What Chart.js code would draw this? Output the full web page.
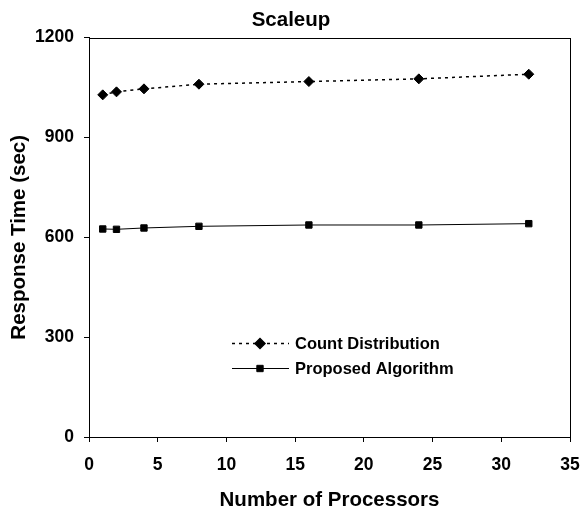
<!DOCTYPE html>
<html>
<head>
<meta charset="utf-8">
<script src="https://cdn.jsdelivr.net/npm/chart.js@4/dist/chart.umd.min.js"></script>
<style>
  html, body { margin: 0; padding: 0; background: #fff; }
  #wrap { width: 582px; height: 514px; }
</style>
</head>
<body>
<div id="wrap"><canvas id="chart-scaleup"></canvas></div>
<script>
/* Scaleup data */
var processors = [1, 2, 4, 8, 16, 24, 32];
var countDistribution = [1028, 1037, 1046, 1060, 1068, 1076, 1090];
var proposedAlgorithm = [625, 624, 628, 633, 637, 637, 641];
var seriesNames = ['Count Distribution', 'Proposed Algorithm'];

var FONT = "'Liberation Sans', Arial, sans-serif";

function toPoints(xs, ys) {
    return xs.map(function (x, i) { return { x: x, y: ys[i] }; });
}

/* box around the plot area */
var frame = {
    id: 'frame',
    afterDraw: function (chart) {
        var a = chart.chartArea, c = chart.ctx;
        c.save();
        c.strokeStyle = '#000';
        c.lineWidth = 1;
        c.strokeRect(Math.round(a.left) + 0.5, Math.round(a.top) + 0.5,
            Math.round(a.right - a.left), Math.round(a.bottom - a.top));
        c.restore();
    }
};

/* legend drawn inside the plot area */
var innerLegend = {
    id: 'innerLegend',
    afterDraw: function (chart) {
        var c = chart.ctx;
        var rows = [{ y: 343, ds: chart.data.datasets[0] }, { y: 368, ds: chart.data.datasets[1] }];
        c.save();
        rows.forEach(function (r) {
            c.strokeStyle = '#000';
            c.lineWidth = r.ds.borderWidth;
            c.setLineDash(r.ds.borderDash || []);
            c.beginPath();
            c.moveTo(232, r.y + 0.5);
            c.lineTo(289, r.y + 0.5);
            c.stroke();
            c.setLineDash([]);
            Chart.helpers.drawPoint(c, {
                pointStyle: r.ds.pointStyle,
                radius: r.ds.pointRadius,
                borderWidth: 1
            }, 260, r.y + 0.5);
            c.fillStyle = '#000';
            c.font = 'bold 16.5px ' + FONT;
            c.textBaseline = 'middle';
            c.fillText(r.ds.label, 295, r.y + 1);
        });
        c.restore();
    }
};

var ctx = document.getElementById('chart-scaleup').getContext('2d');
var chart = new Chart(ctx, {
    type: 'line',
    data: {
        datasets: [{
            label: seriesNames[0],
            data: toPoints(processors, countDistribution),
            borderColor: '#000',
            backgroundColor: '#000',
            borderWidth: 1.5,
            borderDash: [3, 4],
            pointStyle: 'rectRot',
            pointRadius: 5,
            pointBorderWidth: 1,
            tension: 0
        }, {
            label: seriesNames[1],
            data: toPoints(processors, proposedAlgorithm),
            borderColor: '#000',
            backgroundColor: '#000',
            borderWidth: 1,
            pointStyle: 'rect',
            pointRadius: 4.5,
            pointBorderWidth: 1,
            tension: 0
        }]
    },
    options: {
        responsive: true,
        maintainAspectRatio: false,
        animation: false,
        layout: { padding: { left: 0, right: 0, top: 0, bottom: 0 } },
        plugins: {
            legend: { display: false },
            tooltip: { enabled: false },
            title: {
                display: true,
                text: 'Scaleup',
                color: '#000',
                font: { family: FONT, size: 20.5, weight: 'bold' },
                padding: { top: 8, bottom: 5 }
            }
        },
        scales: {
            x: {
                type: 'linear',
                min: 0,
                max: 35,
                ticks: {
                    stepSize: 5,
                    color: '#000',
                    padding: 13,
                    font: { family: FONT, size: 17.5, weight: 'bold' }
                },
                grid: { drawOnChartArea: false, drawTicks: true, tickLength: 5, color: '#000' },
                border: { display: true, color: '#000' },
                title: {
                    display: true,
                    text: 'Number of Processors',
                    color: '#000',
                    font: { family: FONT, size: 20.5, weight: 'bold' },
                    padding: { top: 0, bottom: 1 }
                },
                afterFit: function (s) {
                    s.height = 77;
                    s.paddingLeft = 0;
                    s.paddingRight = 12;
                }
            },
            y: {
                min: 0,
                max: 1200,
                ticks: {
                    stepSize: 300,
                    color: '#000',
                    padding: 10,
                    font: { family: FONT, size: 17.5, weight: 'bold' },
                    callback: function (v) { return String(v); }
                },
                grid: { drawOnChartArea: false, drawTicks: true, tickLength: 5, color: '#000' },
                border: { display: true, color: '#000' },
                title: {
                    display: true,
                    text: 'Response Time (sec)',
                    color: '#000',
                    font: { family: FONT, size: 20.5, weight: 'bold' },
                    padding: { top: 7, bottom: 0 }
                },
                afterFit: function (s) { s.width = 89; }
            }
        }
    },
    plugins: [frame, innerLegend]
});
</script>
</body>
</html>
